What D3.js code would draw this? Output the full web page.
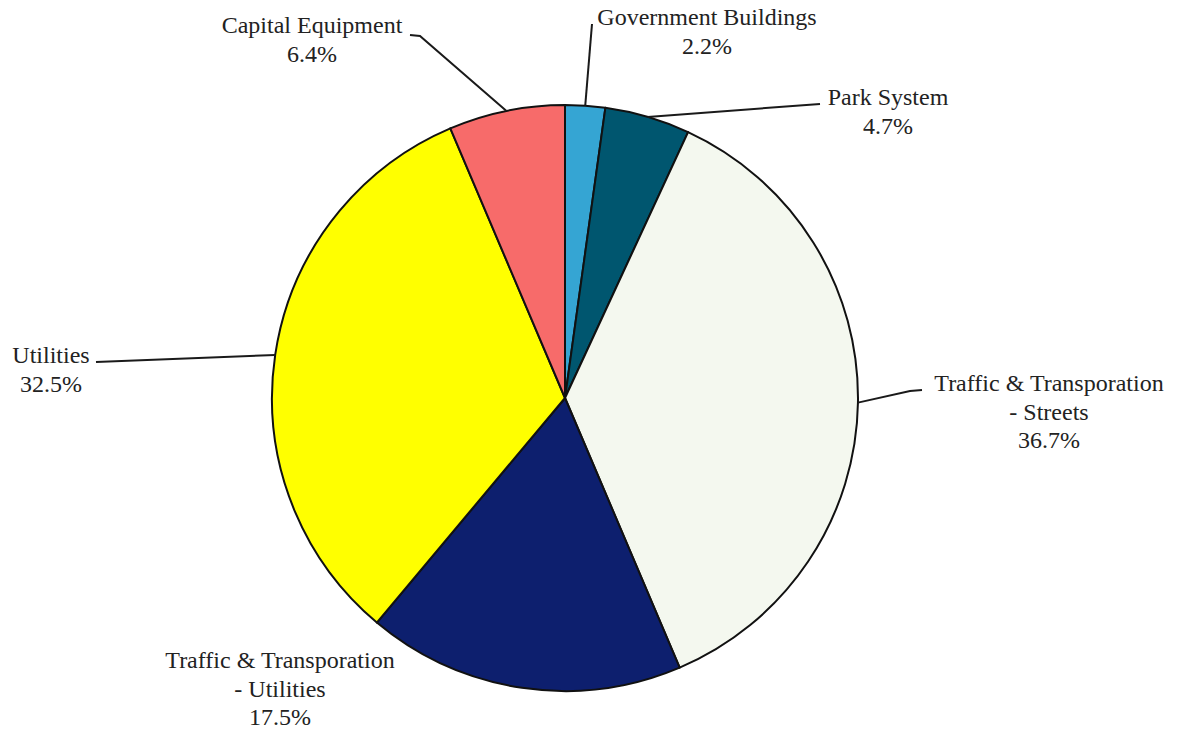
<!DOCTYPE html>
<html>
<head>
<meta charset="utf-8">
<script src="https://cdn.jsdelivr.net/npm/d3@7"></script>
<style>
  body { margin: 0; background: #fff; }
</style>
</head>
<body>
<div id="chart"></div>
<script>
const WIDTH = 1181
const HEIGHT = 732

// data, clockwise from 12 o'clock
const categories = [
  'Government Buildings',
  'Park System',
  'Traffic & Transporation - Streets',
  'Traffic & Transporation - Utilities',
  'Utilities',
  'Capital Equipment'
]
const values = [2.2, 4.7, 36.7, 17.5, 32.5, 6.4]
const colors = ['#35a5d3', '#00566f', '#f4f8ef', '#0d1f6e', '#ffff00', '#f76b6a']

// label text lines (percentage is appended)
const labelLines = [
  ['Government Buildings'],
  ['Park System'],
  ['Traffic & Transporation', '- Streets'],
  ['Traffic & Transporation', '- Utilities'],
  ['Utilities'],
  ['Capital Equipment']
]
// label layout: centre x, first baseline, leader points near label (null = no leader)
const labelPos = [
  { x: 707, y: 25, leader: [[592, 24]] },
  { x: 888, y: 105, leader: [[820, 104]] },
  { x: 1049, y: 391, leader: [[922, 390], [910, 391]] },
  { x: 280, y: 668, leader: null },
  { x: 51, y: 363, leader: [[96, 362]] },
  { x: 312, y: 33, leader: [[410, 35], [420, 36]] }
]

const CX = 565
const CY = 398
const R = 293
const LINE_H = 28.5
const FONT = "'Liberation Serif', 'Times New Roman', Times, 'DejaVu Serif', serif"

const svg = d3.select('#chart')
  .append('svg')
  .attr('width', WIDTH)
  .attr('height', HEIGHT)

const data = categories.map((c, i) => ({ name: c, value: values[i], color: colors[i], lines: labelLines[i], pos: labelPos[i] }))

const pie = d3.pie()
  .sort(null)
  .value(d => d.value)
const arc = d3.arc()
  .innerRadius(0)
  .outerRadius(R)

const g = svg.append('g')
  .attr('transform', `translate(${CX}, ${CY})`)

const arcs = pie(data)

g.selectAll('.slice')
  .data(arcs)
  .enter()
  .append('path')
  .attr('class', 'slice')
  .attr('d', arc)
  .attr('fill', d => d.data.color)
  .attr('stroke', '#111')
  .attr('stroke-width', 2)
  .attr('stroke-linejoin', 'round')

// leader lines from label to slice edge at mid angle
function edgePoint(d) {
  const a = (d.startAngle + d.endAngle) / 2
  return [CX + R * Math.sin(a), CY - R * Math.cos(a)]
}

arcs.forEach(d => {
  const p = d.data.pos
  if (!p.leader) return
  const pts = p.leader.concat([edgePoint(d)])
  svg.append('path')
    .attr('d', d3.line()(pts))
    .attr('fill', 'none')
    .attr('stroke', '#1a1a1a')
    .attr('stroke-width', 2)
})

const labels = svg.selectAll('.label')
  .data(arcs)
  .enter()
  .append('text')
  .attr('class', 'label')
  .attr('text-anchor', 'middle')
  .attr('font-family', FONT)
  .attr('font-size', 24)
  .attr('fill', '#222')

labels.each(function(d) {
  const t = d3.select(this)
  const lines = d.data.lines.concat([d3.format('.1f')(d.data.value) + '%'])
  lines.forEach((l, i) => {
    t.append('tspan')
      .attr('x', d.data.pos.x)
      .attr('y', d.data.pos.y + i * LINE_H)
      .text(l)
  })
})
</script>
</body>
</html>
